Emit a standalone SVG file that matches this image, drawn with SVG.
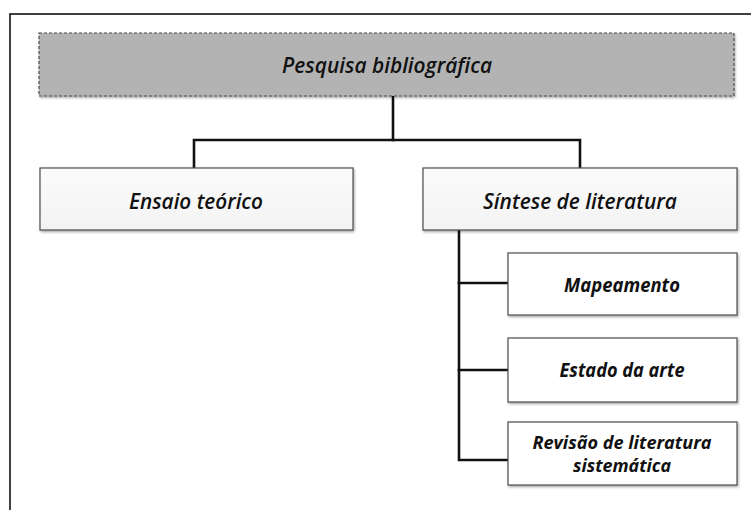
<svg xmlns="http://www.w3.org/2000/svg" width="751" height="510" viewBox="0 0 751 510">
<style>
.frame{fill:none;stroke:#111;stroke-width:1.6}
.conn{fill:none;stroke:#111;stroke-width:2.6;stroke-linejoin:miter;stroke-linecap:square}
.top{fill:#b3b3b3;stroke:#4d4d4d;stroke-width:1.2;stroke-dasharray:3,2}
.lvl1{fill:url(#g1);stroke:#4d4d4d;stroke-width:1.2}
.sub{fill:#ffffff;stroke:#4d4d4d;stroke-width:1.2}
.t1{font-family:"Open Sans","Liberation Sans",sans-serif;font-style:italic;font-weight:600;font-size:21px;fill:#111;text-anchor:middle}
.t2{font-family:"Open Sans","Liberation Sans",sans-serif;font-style:italic;font-weight:700;font-size:19px;fill:#111;text-anchor:middle}
.t3{font-size:17px}
</style>
<defs>
<linearGradient id="g1" x1="0" y1="0" x2="0" y2="1">
<stop offset="0" stop-color="#fbfbfb"/>
<stop offset="1" stop-color="#f3f3f3"/>
</linearGradient>
<filter id="sh" x="-5%" y="-5%" width="110%" height="120%">
<feDropShadow dx="1" dy="1.5" stdDeviation="1" flood-color="#000" flood-opacity="0.35"/>
</filter>
</defs>
<rect width="751" height="510" fill="#ffffff"/>
<rect class="frame" x="10" y="14" width="800" height="600"/>
<g id="connectors">
<path class="conn" d="M393,96 V140"/>
<path class="conn" d="M194,168 V140 H580 V168"/>
<path class="conn" d="M459,230 V460 H508"/>
<path class="conn" d="M459,283 H508"/>
<path class="conn" d="M459,370 H508"/>
</g>
<g id="pesquisa">
<rect class="top" x="39" y="33" width="695" height="63" filter="url(#sh)"/>
<text class="t1" x="387" y="73" textLength="210" lengthAdjust="spacingAndGlyphs">Pesquisa bibliográfica</text>
</g>
<g id="ensaio">
<rect class="lvl1" x="40" y="168" width="313" height="62" filter="url(#sh)"/>
<text class="t1" x="196" y="209" textLength="134" lengthAdjust="spacingAndGlyphs">Ensaio teórico</text>
</g>
<g id="sintese">
<rect class="lvl1" x="423" y="168" width="314" height="62" filter="url(#sh)"/>
<text class="t1" x="580" y="209" textLength="194" lengthAdjust="spacingAndGlyphs">Síntese de literatura</text>
</g>
<g id="mapeamento">
<rect class="sub" x="508" y="253" width="229" height="62" filter="url(#sh)"/>
<text class="t2" x="622" y="292" textLength="116" lengthAdjust="spacingAndGlyphs">Mapeamento</text>
</g>
<g id="estado">
<rect class="sub" x="508" y="338" width="229" height="64" filter="url(#sh)"/>
<text class="t2" x="622" y="377" textLength="125" lengthAdjust="spacingAndGlyphs">Estado da arte</text>
</g>
<g id="revisao">
<rect class="sub" x="508" y="422" width="229" height="63" filter="url(#sh)"/>
<text class="t2 t3" x="622" y="449" textLength="179" lengthAdjust="spacingAndGlyphs">Revisão de literatura</text>
<text class="t2 t3" x="622" y="472" textLength="98" lengthAdjust="spacingAndGlyphs">sistemática</text>
</g>
</svg>
